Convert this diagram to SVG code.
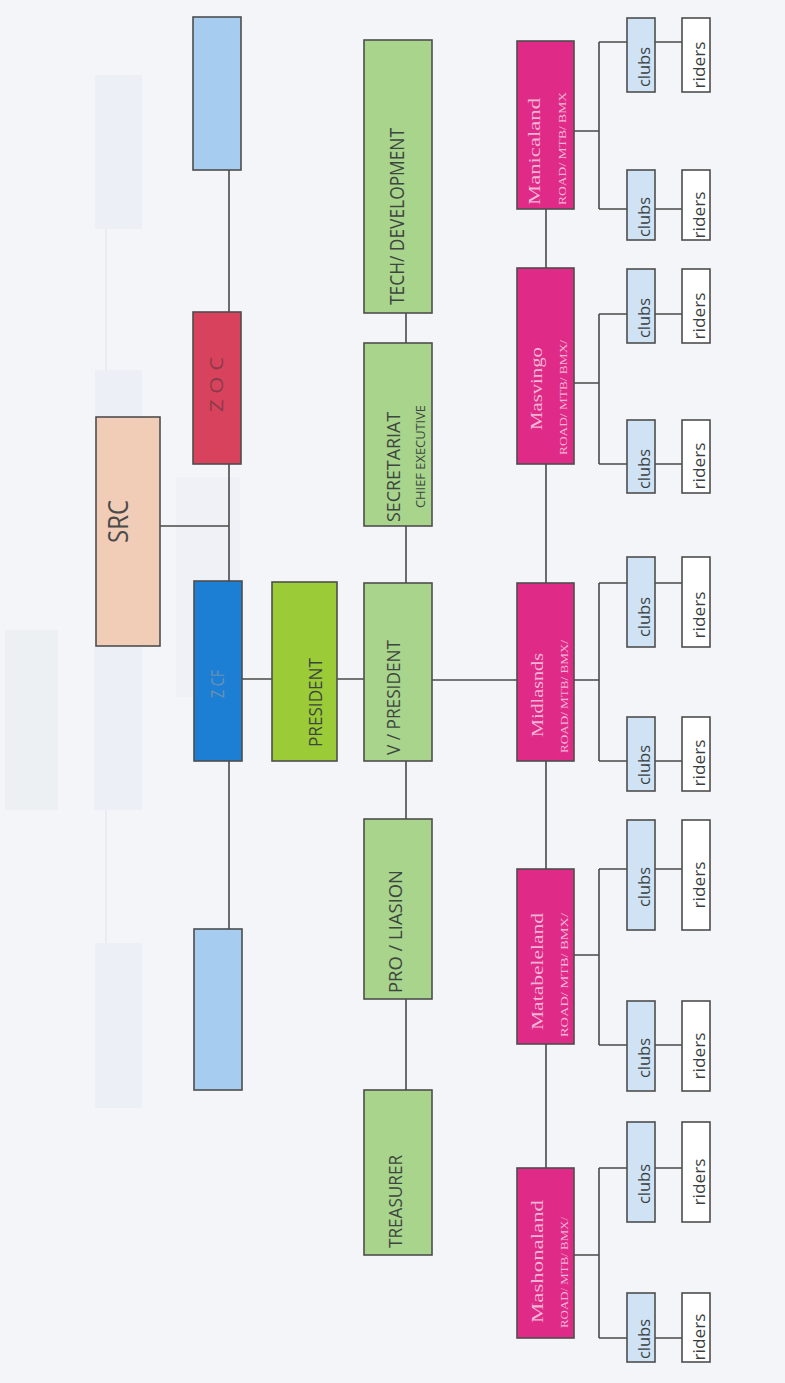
<svg xmlns="http://www.w3.org/2000/svg" width="785" height="1383" viewBox="0 0 785 1383">
<style>
.bx{stroke:#4e4e4e;stroke-width:1.6}
.lb{fill:#a6cdef}
.zoc{fill:#d8425c}
.zcf{fill:#1c7fd3}
.src{fill:#f1cdb7}
.pres{fill:#9bcb37}
.off{fill:#a8d48b}
.reg{fill:#df2a88}
.clubs{fill:#cfe3f4}
.riders{fill:#ffffff}
.ln{stroke:#4a4a4a;stroke-width:1.6;fill:none}
.ghost{fill:#e6ebf4;opacity:0.55}
.t{font-family:"Open Sans","Liberation Sans",sans-serif;fill:#3d4640}
.rt{font-family:"Liberation Serif","DejaVu Serif",serif;fill:#f0b4d4}
.ct{font-family:"Open Sans","Liberation Sans",sans-serif;fill:#3a3f44;font-size:17px}
</style>
<rect width="785" height="1383" fill="#f4f5f9"/>
<g id="bleed-through">
<rect class="ghost" x="95" y="75" width="47" height="154"/>
<rect class="ghost" x="95" y="370" width="47" height="47"/>
<rect class="ghost" x="94" y="647" width="48" height="163"/>
<rect class="ghost" x="5" y="630" width="53" height="180" style="fill:#e8ebee"/>
<rect class="ghost" x="176" y="477" width="64" height="220" style="fill:#eceef3;opacity:0.45"/>
<rect class="ghost" x="95" y="943" width="47" height="165"/>
<line x1="106" y1="229" x2="106" y2="370" stroke="#e6e9f0" stroke-width="1.5"/>
<line x1="106" y1="810" x2="106" y2="943" stroke="#e6e9f0" stroke-width="1.5"/>
</g>
<g id="connectors">
<path class="ln" d="M229 170V312M229 464V581M229 761V929M160 526H229"/>
<path class="ln" d="M242 679H272M337 679H364"/>
<path class="ln" d="M406 313V343M406 526V583M406 761V819M406 999V1090"/>
<path class="ln" d="M432 680H517"/>
<path class="ln" d="M546 209V268M546 464V583M546 761V869M546 1044V1168"/>
<path class="ln" d="M574 131H599M599 42V209M599 42H627M599 209H627M655 42H682M655 209H682"/>
<path class="ln" d="M574 383H599M599 314V464M599 314H627M599 464H627M655 314H682M655 464H682"/>
<path class="ln" d="M574 680H599M599 583V761M599 583H627M599 761H627M655 583H682M655 761H682"/>
<path class="ln" d="M574 955H599M599 869V1045M599 869H627M599 1045H627M655 869H682M655 1045H682"/>
<path class="ln" d="M574 1255H599M599 1168V1338M599 1168H627M599 1338H627M655 1168H682M655 1338H682"/>
</g>
<g id="node-blue-top"><rect class="bx lb" x="193" y="17" width="48" height="153"/></g>
<g id="node-zoc"><rect class="bx zoc" x="193" y="312" width="48" height="152"/>
<text class="t" style="fill:#8b3a4a" font-size="19" transform="translate(223,412) rotate(-90)" textLength="55" lengthAdjust="spacingAndGlyphs">Z O C</text></g>
<g id="node-zcf"><rect class="bx zcf" x="194" y="581" width="48" height="180"/>
<text class="t" style="fill:#6b8fb3" font-size="19" transform="translate(224,698) rotate(-90)" textLength="28" lengthAdjust="spacingAndGlyphs">Z CF</text></g>
<g id="node-blue-bottom"><rect class="bx lb" x="194" y="929" width="48" height="161"/></g>
<g id="node-src"><rect class="bx src" x="96" y="417" width="64" height="229"/>
<text class="t" style="fill:#4a4a4a" font-size="28" transform="translate(128,543) rotate(-90)" textLength="43" lengthAdjust="spacingAndGlyphs">SRC</text></g>
<g id="node-president"><rect class="bx pres" x="272" y="582" width="65" height="179"/>
<text class="t" font-size="19" transform="translate(322,747) rotate(-90)" textLength="89" lengthAdjust="spacingAndGlyphs">PRESIDENT</text></g>
<g id="node-tech"><rect class="bx off" x="364" y="40" width="68" height="273"/>
<text class="t" font-size="20" transform="translate(404,305) rotate(-90)" textLength="177" lengthAdjust="spacingAndGlyphs">TECH/ DEVELOPMENT</text></g>
<g id="node-secretariat"><rect class="bx off" x="364" y="343" width="68" height="183"/>
<text class="t" font-size="19" transform="translate(400,522) rotate(-90)" textLength="110" lengthAdjust="spacingAndGlyphs">SECRETARIAT</text>
<text class="t" font-size="12" transform="translate(425,508) rotate(-90)" textLength="103" lengthAdjust="spacingAndGlyphs">CHIEF EXECUTIVE</text></g>
<g id="node-vpresident"><rect class="bx off" x="364" y="583" width="68" height="178"/>
<text class="t" font-size="19" transform="translate(400,755) rotate(-90)" textLength="115" lengthAdjust="spacingAndGlyphs">V / PRESIDENT</text></g>
<g id="node-pro"><rect class="bx off" x="364" y="819" width="68" height="180"/>
<text class="t" font-size="19" transform="translate(402,993) rotate(-90)" textLength="123" lengthAdjust="spacingAndGlyphs">PRO / LIASION</text></g>
<g id="node-treasurer"><rect class="bx off" x="364" y="1090" width="68" height="165"/>
<text class="t" font-size="19" transform="translate(402,1248) rotate(-90)" textLength="93" lengthAdjust="spacingAndGlyphs">TREASURER</text></g>
<g id="node-manicaland"><rect class="bx reg" x="517" y="41" width="57" height="168"/>
<text class="rt" font-size="17" transform="translate(540,205) rotate(-90)" textLength="107" lengthAdjust="spacingAndGlyphs">Manicaland</text>
<text class="rt" font-size="11" transform="translate(566,205) rotate(-90)" textLength="113" lengthAdjust="spacingAndGlyphs">ROAD/ MTB/ BMX</text></g>
<g id="node-masvingo"><rect class="bx reg" x="517" y="268" width="57" height="196"/>
<text class="rt" font-size="17" transform="translate(542,430) rotate(-90)" textLength="83" lengthAdjust="spacingAndGlyphs">Masvingo</text>
<text class="rt" font-size="11" transform="translate(567,455) rotate(-90)" textLength="115" lengthAdjust="spacingAndGlyphs">ROAD/ MTB/ BMX/</text></g>
<g id="node-midlands"><rect class="bx reg" x="517" y="583" width="57" height="178"/>
<text class="rt" font-size="17" transform="translate(543,737) rotate(-90)" textLength="84" lengthAdjust="spacingAndGlyphs">Midlasnds</text>
<text class="rt" font-size="11" transform="translate(568,753) rotate(-90)" textLength="113" lengthAdjust="spacingAndGlyphs">ROAD/ MTB/ BMX/</text></g>
<g id="node-matabeleland"><rect class="bx reg" x="517" y="869" width="57" height="175"/>
<text class="rt" font-size="17" transform="translate(543,1030) rotate(-90)" textLength="117" lengthAdjust="spacingAndGlyphs">Matabeleland</text>
<text class="rt" font-size="11" transform="translate(568,1037) rotate(-90)" textLength="124" lengthAdjust="spacingAndGlyphs">ROAD/ MTB/ BMX/</text></g>
<g id="node-mashonaland"><rect class="bx reg" x="517" y="1168" width="57" height="170"/>
<text class="rt" font-size="17" transform="translate(543,1323) rotate(-90)" textLength="123" lengthAdjust="spacingAndGlyphs">Mashonaland</text>
<text class="rt" font-size="11" transform="translate(568,1328) rotate(-90)" textLength="111" lengthAdjust="spacingAndGlyphs">ROAD/ MTB/ BMX/</text></g>
<g id="node-manicaland-clubs-1"><rect class="bx clubs" x="627" y="18" width="28" height="74"/><text class="ct" text-anchor="middle" transform="translate(650,67) rotate(-90)" textLength="40" lengthAdjust="spacingAndGlyphs">clubs</text></g>
<g id="node-manicaland-riders-1"><rect class="bx riders" x="682" y="18" width="28" height="74"/><text class="ct" text-anchor="middle" transform="translate(705,65) rotate(-90)" textLength="47" lengthAdjust="spacingAndGlyphs">riders</text></g>
<g id="node-manicaland-clubs-2"><rect class="bx clubs" x="627" y="170" width="28" height="70"/><text class="ct" text-anchor="middle" transform="translate(650,217) rotate(-90)" textLength="40" lengthAdjust="spacingAndGlyphs">clubs</text></g>
<g id="node-manicaland-riders-2"><rect class="bx riders" x="682" y="170" width="28" height="70"/><text class="ct" text-anchor="middle" transform="translate(705,215) rotate(-90)" textLength="47" lengthAdjust="spacingAndGlyphs">riders</text></g>
<g id="node-masvingo-clubs-1"><rect class="bx clubs" x="627" y="269" width="28" height="74"/><text class="ct" text-anchor="middle" transform="translate(650,318) rotate(-90)" textLength="40" lengthAdjust="spacingAndGlyphs">clubs</text></g>
<g id="node-masvingo-riders-1"><rect class="bx riders" x="682" y="269" width="28" height="74"/><text class="ct" text-anchor="middle" transform="translate(705,316) rotate(-90)" textLength="47" lengthAdjust="spacingAndGlyphs">riders</text></g>
<g id="node-masvingo-clubs-2"><rect class="bx clubs" x="627" y="420" width="28" height="73"/><text class="ct" text-anchor="middle" transform="translate(650,469) rotate(-90)" textLength="40" lengthAdjust="spacingAndGlyphs">clubs</text></g>
<g id="node-masvingo-riders-2"><rect class="bx riders" x="682" y="420" width="28" height="73"/><text class="ct" text-anchor="middle" transform="translate(705,466) rotate(-90)" textLength="47" lengthAdjust="spacingAndGlyphs">riders</text></g>
<g id="node-midlands-clubs-1"><rect class="bx clubs" x="627" y="557" width="28" height="90"/><text class="ct" text-anchor="middle" transform="translate(650,617) rotate(-90)" textLength="40" lengthAdjust="spacingAndGlyphs">clubs</text></g>
<g id="node-midlands-riders-1"><rect class="bx riders" x="682" y="557" width="28" height="90"/><text class="ct" text-anchor="middle" transform="translate(705,615) rotate(-90)" textLength="47" lengthAdjust="spacingAndGlyphs">riders</text></g>
<g id="node-midlands-clubs-2"><rect class="bx clubs" x="627" y="717" width="28" height="74"/><text class="ct" text-anchor="middle" transform="translate(650,765) rotate(-90)" textLength="40" lengthAdjust="spacingAndGlyphs">clubs</text></g>
<g id="node-midlands-riders-2"><rect class="bx riders" x="682" y="717" width="28" height="74"/><text class="ct" text-anchor="middle" transform="translate(705,763) rotate(-90)" textLength="47" lengthAdjust="spacingAndGlyphs">riders</text></g>
<g id="node-matabeleland-clubs-1"><rect class="bx clubs" x="627" y="820" width="28" height="110"/><text class="ct" text-anchor="middle" transform="translate(650,887) rotate(-90)" textLength="40" lengthAdjust="spacingAndGlyphs">clubs</text></g>
<g id="node-matabeleland-riders-1"><rect class="bx riders" x="682" y="820" width="28" height="110"/><text class="ct" text-anchor="middle" transform="translate(705,885) rotate(-90)" textLength="47" lengthAdjust="spacingAndGlyphs">riders</text></g>
<g id="node-matabeleland-clubs-2"><rect class="bx clubs" x="627" y="1001" width="28" height="90"/><text class="ct" text-anchor="middle" transform="translate(650,1058) rotate(-90)" textLength="40" lengthAdjust="spacingAndGlyphs">clubs</text></g>
<g id="node-matabeleland-riders-2"><rect class="bx riders" x="682" y="1001" width="28" height="90"/><text class="ct" text-anchor="middle" transform="translate(705,1056) rotate(-90)" textLength="47" lengthAdjust="spacingAndGlyphs">riders</text></g>
<g id="node-mashonaland-clubs-1"><rect class="bx clubs" x="627" y="1122" width="28" height="100"/><text class="ct" text-anchor="middle" transform="translate(650,1184) rotate(-90)" textLength="40" lengthAdjust="spacingAndGlyphs">clubs</text></g>
<g id="node-mashonaland-riders-1"><rect class="bx riders" x="682" y="1122" width="28" height="100"/><text class="ct" text-anchor="middle" transform="translate(705,1182) rotate(-90)" textLength="47" lengthAdjust="spacingAndGlyphs">riders</text></g>
<g id="node-mashonaland-clubs-2"><rect class="bx clubs" x="627" y="1293" width="28" height="69"/><text class="ct" text-anchor="middle" transform="translate(650,1339) rotate(-90)" textLength="40" lengthAdjust="spacingAndGlyphs">clubs</text></g>
<g id="node-mashonaland-riders-2"><rect class="bx riders" x="682" y="1293" width="28" height="69"/><text class="ct" text-anchor="middle" transform="translate(705,1337) rotate(-90)" textLength="47" lengthAdjust="spacingAndGlyphs">riders</text></g>
</svg>
